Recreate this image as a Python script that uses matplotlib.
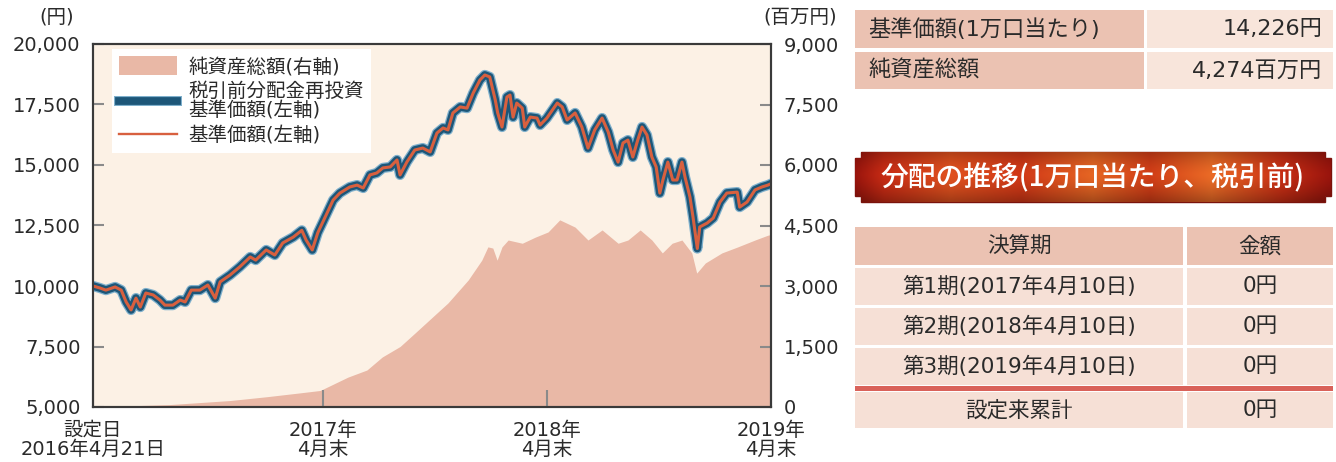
import matplotlib
matplotlib.use("Agg")
import matplotlib.pyplot as plt
import matplotlib.patheffects as pe
import numpy as np
from matplotlib.patches import Rectangle, Polygon, Patch
from matplotlib.lines import Line2D

plt.rcParams['font.family'] = ['DejaVu Sans', 'Noto Sans CJK JP']

# ---------------- data ----------------
nav_dates = ['2016-04-21', '2016-05-02', '2016-05-12', '2016-05-27', '2016-06-06', '2016-06-14',
             '2016-06-22', '2016-06-30', '2016-07-07', '2016-07-16', '2016-07-28', '2016-08-08',
             '2016-08-16', '2016-08-29', '2016-09-10', '2016-09-18', '2016-09-28', '2016-10-12',
             '2016-10-25', '2016-11-06', '2016-11-14', '2016-11-30', '2016-12-16', '2017-01-02',
             '2017-01-11', '2017-01-28', '2017-02-11', '2017-02-24', '2017-03-13', '2017-03-27',
             '2017-04-03', '2017-04-13', '2017-04-22', '2017-05-05', '2017-05-17', '2017-05-28',
             '2017-06-13', '2017-06-25', '2017-07-05', '2017-07-16', '2017-07-27', '2017-08-06',
             '2017-08-18', '2017-08-29', '2017-09-03', '2017-09-14', '2017-09-27', '2017-10-10',
             '2017-10-22', '2017-11-02', '2017-11-12', '2017-11-20', '2017-11-28', '2017-12-10',
             '2017-12-21', '2017-12-31', '2018-01-11', '2018-01-19', '2018-01-27', '2018-02-05',
             '2018-02-09', '2018-02-16', '2018-02-24', '2018-03-01', '2018-03-06', '2018-03-12',
             '2018-03-21', '2018-03-25', '2018-04-03', '2018-04-14', '2018-04-19', '2018-04-30',
             '2018-05-17', '2018-05-25', '2018-06-02', '2018-06-15', '2018-06-26', '2018-07-06',
             '2018-07-17', '2018-07-29', '2018-08-08', '2018-08-16', '2018-08-24', '2018-09-01',
             '2018-09-09', '2018-09-17', '2018-09-25', '2018-10-02', '2018-10-10', '2018-10-18',
             '2018-10-25', '2018-10-31', '2018-11-05', '2018-11-13', '2018-11-21', '2018-11-28',
             '2018-12-06', '2018-12-11', '2018-12-19', '2018-12-24', '2018-12-31', '2019-01-04',
             '2019-01-16', '2019-01-26', '2019-02-06', '2019-02-17', '2019-03-06', '2019-03-10',
             '2019-03-22', '2019-04-04', '2019-04-15', '2019-04-25', '2019-04-30']
nav_values = [10000, 9920, 9830, 9960, 9830, 9340,
              9010, 9500, 9130, 9710, 9630, 9420,
              9210, 9210, 9420, 9340, 9830, 9830,
              10040, 9500, 10170, 10450, 10790, 11200,
              11070, 11490, 11280, 11780, 12020, 12300,
              11900, 11490, 12200, 12900, 13550, 13840,
              14090, 14170, 14050, 14590, 14670, 14880,
              14920, 15210, 14590, 15120, 15620, 15700,
              15540, 16320, 16530, 16450, 17150, 17400,
              17350, 17970, 18510, 18720, 18640, 17690,
              17150, 16570, 17810, 17890, 16980, 17560,
              17350, 16570, 16980, 16940, 16650, 16940,
              17560, 17400, 16860, 17150, 16570, 15700,
              16450, 16940, 16360, 15620, 15120, 15910,
              16030, 15330, 16030, 16570, 16240, 15330,
              14920, 13840, 14380, 15120, 14380, 14380,
              15120, 14500, 13680, 12850, 11550, 12440,
              12600, 12810, 13470, 13840, 13880, 13260,
              13470, 13970, 14090, 14170, 14226]
# no distributions were paid, so the reinvested NAV equals the NAV
nav_reinvested = list(nav_values)

asset_dates = ['2016-04-21', '2016-06-20', '2016-08-24', '2016-10-12', '2016-11-30', '2017-01-29',
               '2017-03-24', '2017-04-26', '2017-06-10', '2017-07-11', '2017-08-05', '2017-09-03',
               '2017-09-27', '2017-11-20', '2017-12-23', '2018-01-14', '2018-01-24', '2018-02-01',
               '2018-02-08', '2018-02-16', '2018-02-26', '2018-03-21', '2018-04-11', '2018-05-02',
               '2018-05-21', '2018-06-15', '2018-07-06', '2018-07-29', '2018-08-24', '2018-09-09',
               '2018-09-29', '2018-10-18', '2018-11-04', '2018-11-20', '2018-12-06', '2018-12-22',
               '2018-12-30', '2019-01-13', '2019-02-09', '2019-03-07', '2019-04-04', '2019-04-25',
               '2019-04-30']
asset_values = [10, 30, 60, 110, 160, 255,
                350, 410, 740, 917, 1240, 1500,
                1830, 2580, 3150, 3640, 3970, 3940,
                3640, 3970, 4140, 4060, 4210, 4340,
                4640, 4460, 4140, 4390, 4060, 4140,
                4390, 4140, 3820, 4060, 4140, 3820,
                3320, 3570, 3820, 3970, 4140, 4260,
                4274]

left_ticks = [5000, 7500, 10000, 12500, 15000, 17500, 20000]
right_ticks = [0, 1500, 3000, 4500, 6000, 7500, 9000]
x_tick_dates = ['2016-04-21', '2017-04-30', '2018-04-30', '2019-04-30']
x_tick_labels = ['設定日\n2016年4月21日', '2017年\n4月末', '2018年\n4月末', '2019年\n4月末']

legend_labels = ['純資産総額(右軸)', '税引前分配金再投資\n基準価額(左軸)', '基準価額(左軸)']

summary_labels = ['基準価額(1万口当たり)', '純資産総額']
summary_values = ['14,226円', '4,274百万円']
banner_title = '分配の推移(1万口当たり、税引前)'
dist_header = ['決算期', '金額']
dist_periods = ['第1期(2017年4月10日)', '第2期(2018年4月10日)', '第3期(2019年4月10日)']
dist_amounts = ['0円', '0円', '0円']
dist_total_label = '設定来累計'
dist_total_amount = '0円'

# ---------------- styles ----------------
CREAM = '#FCF1E5'
AREA = '#E9B8A6'
BLUE = '#1D5678'
HALO = '#7FB0CC'
RED = '#D8603F'
SPINE = '#3A3A3A'
TICK = '#8A8A8A'
TXT = '#2A2A2A'

W, H = 1336, 462
fig = plt.figure(figsize=(W / 100, H / 100), dpi=100)
fig.patch.set_facecolor('white')

L, R, T, B = 93, 771, 44, 407
ax = fig.add_axes([L / W, 1 - B / H, (R - L) / W, (B - T) / H])
ax2 = ax.twinx()
ax.set_zorder(3)
ax2.set_zorder(2)
ax.patch.set_visible(False)
ax2.patch.set_visible(True)
ax2.patch.set_facecolor(CREAM)

nd = np.array(nav_dates, dtype='datetime64[D]')
ad = np.array(asset_dates, dtype='datetime64[D]')

ax2.fill_between(ad, 0, asset_values, color=AREA, lw=0)
ax2.set_ylim(0, 9000)
ax2.set_yticks(right_ticks)
ax2.set_yticklabels([f'{v:,}' for v in right_ticks])

ax.plot(nd, nav_reinvested, color=BLUE, lw=5.6, solid_joinstyle='round',
        path_effects=[pe.Stroke(linewidth=7.4, foreground=HALO), pe.Normal()])
ax.plot(nd, nav_values, color=RED, lw=2.2, solid_joinstyle='round')

ax.set_ylim(5000, 20000)
ax.set_yticks(left_ticks)
ax.set_yticklabels([f'{v:,}' for v in left_ticks])
xt = np.array(x_tick_dates, dtype='datetime64[D]')
ax.set_xlim(xt[0], xt[-1])
ax.set_xticks(xt)
ax.set_xticklabels(x_tick_labels)

for a in (ax, ax2):
    for s in a.spines.values():
        s.set_color(SPINE)
        s.set_linewidth(1.5)
ax.tick_params(axis='y', direction='in', length=8, width=1.5, color=TICK,
               labelsize=14, pad=9, labelcolor=TXT)
ax2.tick_params(axis='y', direction='in', length=8, width=1.5, color=TICK,
                labelsize=14, pad=9, labelcolor=TXT)
ax.tick_params(axis='x', direction='in', length=12, width=1.5, color=TICK,
               labelsize=14, pad=10, labelcolor=TXT)
for lab in ax.get_xticklabels():
    lab.set_linespacing(1.0)

handles = [Patch(facecolor=AREA, edgecolor='none'),
           Line2D([], [], color=BLUE, lw=5.6,
                  path_effects=[pe.Stroke(linewidth=7.2, foreground=HALO), pe.Normal()]),
           Line2D([], [], color=RED, lw=1.7)]
leg = ax.legend(handles, legend_labels, loc='upper left', bbox_to_anchor=(0.028, 0.985),
                borderaxespad=0, frameon=True, facecolor='white', edgecolor='none',
                fancybox=False, framealpha=1, fontsize=14, handlelength=3.0,
                handleheight=1.1, labelspacing=0.3, borderpad=0.35, handletextpad=0.6)
for t in leg.get_texts():
    t.set_linespacing(1.0)
    t.set_color(TXT)

fig.text(57 / W, 1 - 17 / H, '(円)', ha='center', va='center', fontsize=14, color=TXT)
fig.text(800 / W, 1 - 17 / H, '(百万円)', ha='center', va='center', fontsize=14, color=TXT)

# ---------------- right-hand tables (pixel coordinates overlay) ----------------
ov = fig.add_axes([0, 0, 1, 1], zorder=1)
ov.set_xlim(0, W)
ov.set_ylim(H, 0)
ov.axis('off')

PINK = '#EBC2B2'
LIGHT = '#F8E5DB'
ROW = '#F6E0D6'


def box(x0, x1, y0, y1, color):
    ov.add_patch(Rectangle((x0, y0), x1 - x0, y1 - y0, facecolor=color, edgecolor='none'))


rows1 = [(10, 48), (52, 89)]
for (y0, y1), lab, val in zip(rows1, summary_labels, summary_values):
    box(855, 1144, y0, y1, PINK)
    box(1147, 1333, y0, y1, LIGHT)
    ov.text(868, (y0 + y1) / 2, lab, ha='left', va='center', fontsize=16, color=TXT)
    ov.text(1322, (y0 + y1) / 2, val, ha='right', va='center', fontsize=16, color=TXT)

# banner
bx0, bx1, by0, by1, n = 855, 1331, 152, 202, 6
pts = [(bx0, by0 + n), (bx0 + n, by0 + n), (bx0 + n, by0), (bx1 - n, by0), (bx1 - n, by0 + n),
       (bx1, by0 + n), (bx1, by1 - n), (bx1 - n, by1 - n), (bx1 - n, by1), (bx0 + n, by1),
       (bx0 + n, by1 - n), (bx0, by1 - n)]
poly = Polygon(pts, closed=True, facecolor='none', edgecolor='#7A130C', lw=1.0)
ov.add_patch(poly)
xs = np.linspace(0, 1, 400)
stops_x = [0.0, 0.06, 0.2, 0.35, 0.5, 0.62, 0.75, 0.9, 1.0]
stops_r = [0.60, 0.78, 0.88, 0.82, 0.90, 0.82, 0.92, 0.78, 0.60]
stops_g = [0.08, 0.17, 0.32, 0.22, 0.40, 0.24, 0.42, 0.18, 0.08]
stops_b = [0.05, 0.08, 0.12, 0.09, 0.14, 0.09, 0.15, 0.08, 0.05]
row = np.stack([np.interp(xs, stops_x, stops_r), np.interp(xs, stops_x, stops_g),
                np.interp(xs, stops_x, stops_b)], axis=-1)
ys = np.linspace(0, 1, 60)
shade = 1.0 - 0.35 * np.abs(ys - 0.45) ** 1.5 * 2
grad = np.clip(row[None, :, :] * shade[:, None, None], 0, 1)
im = ov.imshow(grad, extent=(bx0, bx1, by1, by0), aspect='auto', zorder=1)
im.set_clip_path(poly)
ov.text((bx0 + bx1) / 2, (by0 + by1) / 2 + 1, banner_title, ha='center', va='center',
        fontsize=20, fontweight='medium', color='white', zorder=3,
        family=['Noto Sans CJK JP'])

# distribution table
C0, C1, C2, C3 = 855, 1183, 1187, 1333
box(C0, C1, 227, 265, PINK)
box(C2, C3, 227, 265, PINK)
FS = 15.5
ov.text((C0 + C1) / 2, 246, dist_header[0], ha='center', va='center', fontsize=FS, color=TXT)
ov.text((C2 + C3) / 2, 246, dist_header[1], ha='center', va='center', fontsize=FS, color=TXT)
rows2 = [(268, 305), (308, 345), (348, 385)]
for (y0, y1), per, amt in zip(rows2, dist_periods, dist_amounts):
    box(C0, C1, y0, y1, ROW)
    box(C2, C3, y0, y1, ROW)
    ov.text((C0 + C1) / 2, (y0 + y1) / 2, per, ha='center', va='center', fontsize=FS, color=TXT)
    ov.text((C2 + C3) / 2, (y0 + y1) / 2, amt, ha='center', va='center', fontsize=FS, color=TXT)
box(C0, C3, 386, 391, '#D9625A')
box(C0, C1, 392, 428, ROW)
box(C2, C3, 392, 428, ROW)
ov.text((C0 + C1) / 2, 410, dist_total_label, ha='center', va='center', fontsize=FS, color=TXT)
ov.text((C2 + C3) / 2, 410, dist_total_amount, ha='center', va='center', fontsize=FS, color=TXT)

fig.savefig('out.png', dpi=100)
